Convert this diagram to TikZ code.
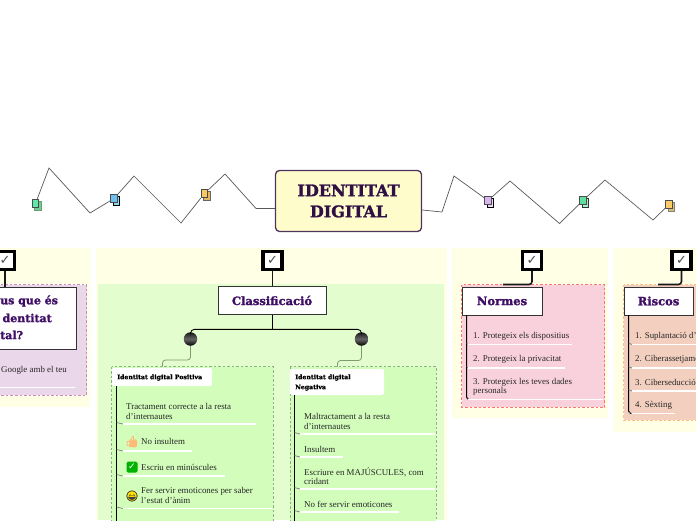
\documentclass[tikz,border=0pt]{standalone}
\usepackage{fontspec}
\setmainfont{Liberation Serif}
\newfontfamily\headf{DejaVu Serif}[FakeBold=1.6]
\newfontfamily\labelf{DejaVu Serif}[FakeBold=0.8]
\newfontfamily\symf{DejaVu Sans}
\newfontfamily\emojif{Noto Emoji}[FakeBold=1.5]
\definecolor{ink}{HTML}{2F0F45}
\definecolor{hd}{HTML}{3F0F66}
\definecolor{pyellow}{HTML}{FFFFE6}
\definecolor{pgreen}{HTML}{E4FDCF}
\definecolor{sgreen}{HTML}{D2FDBB}
\definecolor{ppurple}{HTML}{EAD7EA}
\definecolor{ppink}{HTML}{F9D1DD}
\definecolor{ppeach}{HTML}{F2CFBF}
\definecolor{gdash}{HTML}{8FB080}
\definecolor{glink}{HTML}{7E9A6E}
\tikzset{
  zig/.style={draw=black!65,line width=.7pt},
  backpanel/.style={fill=pyellow,draw=none},
  subpanel/.style={line width=.7pt,dash pattern=on 2.5pt off 2pt},
  checkbox/.style={draw=black,line width=3.2pt,fill=white,minimum width=19pt,minimum height=18pt,inner sep=0pt,font=\symf\fontsize{13}{13}\selectfont,text=black!70},
  headbox/.style={draw=black!80,line width=1pt,fill=white,inner sep=0pt,font=\headf\bfseries\fontsize{11.5}{18}\selectfont,text=hd,align=center},
  thick link/.style={draw=black!90,line width=1.6pt,rounded corners=3pt},
  spine/.style={draw=black,line width=1pt,rounded corners=2pt},
  itemtext/.style={anchor=west,inner sep=0pt,align=left,font=\fontsize{8.9}{9.2}\selectfont,text=black!85},
  labeltext/.style={anchor=west,inner sep=0pt,align=left,font=\labelf\bfseries\fontsize{6.2}{10}\selectfont,text=black},
  labelbox/.style={fill=white,rounded corners=2pt,draw=none},
  ball/.style={circle,top color=black!90,bottom color=black,middle color=black!60,minimum size=13.5pt,inner sep=0pt},
  greenlink/.style={draw=glink,line width=.8pt,rounded corners=3pt},
  tick/.style={draw=black!55,line width=.6pt},
  uline/.style={draw=white,line width=1.2pt},
}
% #1 spine x, #2 line start, #3 line end, #4 y
\newcommand{\itemrule}[4]{%
  \coordinate (ta) at (#1,#4-1.5); \coordinate (tb) at (#2,#4);
  \draw[tick] (ta) -- (tb);
  \coordinate (ua) at (#2,#4); \coordinate (ub) at (#3,#4);
  \draw[uline] (ua) -- (ub);}
% #1 name, #2 x, #3 y, #4 front, #5 back, #6 back border
\newcommand{\docicon}[6]{%
  \node[draw=#6,fill=#5,line width=.9pt,minimum width=6.5pt,minimum height=8.5pt,inner sep=0pt] (#1b) at (#2+2.5,#3+2.3) {};
  \node[draw=black!70,fill=#4,line width=.9pt,minimum width=6.5pt,minimum height=8.5pt,inner sep=0pt] (#1) at (#2,#3) {};}
\definecolor{ica}{HTML}{5FE8A8}\definecolor{icab}{HTML}{6FCB9A}
\definecolor{icb}{HTML}{6EC1EE}\definecolor{icbb}{HTML}{8FD8F5}
\definecolor{icc}{HTML}{F9C862}\definecolor{iccb}{HTML}{E0B860}
\definecolor{icd}{HTML}{D9B5F0}\definecolor{icdb}{HTML}{EBD7F8}
\definecolor{ice}{HTML}{5FE0A0}\definecolor{iceb}{HTML}{A8F0D0}
\definecolor{icf}{HTML}{F9CB6A}\definecolor{icfb}{HTML}{E0BC70}
\begin{document}
\begin{tikzpicture}[x=1pt,y=-1pt]
\useasboundingbox (0,0) rectangle (696,520);
\clip (0,0) rectangle (696,520);
\fill[white] (0,0) rectangle (696,520);

% background panels
\fill[backpanel] (0,248) rectangle (90,407);
\fill[backpanel] (96,248) rectangle (447,520);
\fill[backpanel] (452,248) rectangle (608,418);
\fill[backpanel] (614,248) rectangle (696,432);
\fill[pgreen] (98,284) rectangle (444,520);
\draw[subpanel,fill=ppurple,draw=violet!45] (-5,284.5) rectangle (86.5,395);
\draw[subpanel,fill=ppink,draw=red!40!pink] (461.5,284.5) rectangle (604.5,407);
\draw[subpanel,fill=ppeach,draw=orange!50] (623.5,284.5) rectangle (700,420);
\draw[subpanel,fill=sgreen,draw=gdash] (111.5,366.5) rectangle (273,525);
\draw[subpanel,fill=sgreen,draw=gdash] (290,366.5) rectangle (436,525);

% central node
\node[draw=ink!85,line width=1.3pt,fill=yellow!20,rounded corners=4pt,minimum width=146pt,minimum height=61pt,inner sep=0pt,
  font=\headf\bfseries\fontsize{16}{21}\selectfont,text=ink,align=center] (center) at (348.5,201) {IDENTITAT\\DIGITAL};

% zigzags
\docicon{ia}{35.5}{203.5}{ica}{icab}{green!40!black!60}
\docicon{ib}{114}{198.5}{icb}{icbb}{black}
\docicon{ic}{204.5}{193.5}{icc}{iccb}{black!60}
\docicon{id}{488}{200.5}{icd}{icdb}{black}
\docicon{ie}{583}{200.5}{ice}{iceb}{black!80}
\docicon{if}{669}{204.5}{icf}{icfb}{black!50}
\coordinate (a1) at (49,168); \coordinate (a2) at (90,213);
\coordinate (b1) at (134,176); \coordinate (b2) at (181,223);
\coordinate (c1) at (225,174); \coordinate (c2) at (256,208.5);
\coordinate (d1) at (442,212); \coordinate (d2) at (454,176);
\coordinate (e1) at (510,181); \coordinate (e2) at (559.5,223.5);
\coordinate (f1) at (605,180); \coordinate (f2) at (653,220);
\draw[zig] (ia) -- (a1) -- (a2) -- (ib);
\draw[zig] (ib) -- (b1) -- (b2) -- (ic);
\draw[zig] (ic) -- (c1) -- (c2) -- (center.west |- c2);
\draw[zig] (center.east |- 0,210) -- (d1) -- (d2) -- (id);
\draw[zig] (id) -- (e1) -- (e2) -- (ie);
\draw[zig] (ie) -- (f1) -- (f2) -- (if);

% checkboxes
\node[checkbox] (ck1) at (5,260.5) {✓};
\node[checkbox] (ck2) at (272.5,260.5) {✓};
\node[checkbox] (ck3) at (532,260.5) {✓};
\node[checkbox] (ck4) at (681.5,260.5) {✓};

% head boxes
\node[headbox,minimum width=108pt,minimum height=28pt] (classif) at (272,300.5) {Classificació};
\node[headbox,minimum width=80pt,minimum height=28pt] (normes) at (502,301) {Normes};
\node[headbox,minimum width=69pt,minimum height=28pt] (riscos) at (658.5,301) {Riscos};
\node[draw=black!80,line width=1pt,fill=white,minimum width=100pt,minimum height=62pt,inner sep=0pt] (question) at (26,318) {};
\node[anchor=west,inner sep=0pt,align=left,font=\headf\bfseries\fontsize{11}{17}\selectfont,text=hd] (qt1) at (0,301) {us que és};
\node[anchor=east,inner sep=0pt,align=right,font=\headf\bfseries\fontsize{11}{17}\selectfont,text=hd] (qt2) at (52,318) {dentitat};
\node[anchor=west,inner sep=0pt,align=left,font=\headf\bfseries\fontsize{11}{17}\selectfont,text=hd] (qt3) at (0,335) {tal?};

% head links
\draw[thick link] (ck1.south) -- (ck1 |- question.north);
\draw[thick link] (ck2.south) -- (ck2 |- classif.north);
\coordinate (nj) at (503,284.5); \coordinate (rj) at (658,284.5);
\draw[thick link] (ck3.south) -- (ck3 |- nj) -- (nj);
\draw[thick link] (ck4.south) -- (ck4 |- rj) -- (rj);

% classification tree
\node[ball] (b-l) at (190.5,339) {};
\node[ball] (b-r) at (361.5,339) {};
\coordinate (bus) at (272,329.3);
\draw[draw=black,line width=.9pt] (classif.south) -- (bus);
\draw[draw=black,line width=.9pt,rounded corners=4pt] (b-l.north) -- (b-l |- bus) -- (b-r |- bus) -- (b-r.north);
\coordinate (gl) at (162.5,366.5); \coordinate (gr) at (337.5,366.5);
\draw[greenlink] (b-l.south) -- (190.5,360) -- (162.5,360) -- (gl);
\draw[greenlink] (b-r.south) -- (361.5,360.5) -- (337.5,360.5) -- (gr);

% label boxes
\node[labelbox,minimum width=100pt,minimum height=18pt,inner sep=0pt] (lab1) at (162,377) {};
\node[labeltext] (lab1t) at (117,377.5) {Identitat digital Positiva};
\node[labelbox,minimum width=94pt,minimum height=26pt,inner sep=0pt] (lab2) at (337,382) {};
\node[labeltext] (lab2t) at (295,382.5) {Identitat digital\\Negativa};

% spines
\coordinate (s1) at (116.5,525); \coordinate (s2) at (294.5,525);
\draw[spine] (116.5,386) -- (s1);
\draw[spine] (294.5,395) -- (s2);
\coordinate (s3) at (466.5,399); \coordinate (s4) at (628.5,413);
\draw[spine] (466.5,315) -- (s3) -- (468.5,399.5);
\draw[spine] (628.5,315) -- (s4) -- (631,413.5);

% items: positive
\node[itemtext] (p1) at (126,411.5) {Tractament correcte a la resta\\d'internautes};
\itemrule{116.5}{123}{256}{424}
\fill[orange!50,rounded corners=1pt] (129,440) rectangle (137,447);
\node[inner sep=0pt,font=\emojif\fontsize{11}{11}\selectfont,text=orange!55] (p2i) at (132,441.5) {👍};
\node[itemtext] (p2) at (141,441) {No insultem};
\itemrule{116.5}{123}{192}{451}
\node[fill=green!70!black,rounded corners=1.5pt,minimum size=11pt,inner sep=0pt,font=\symf\bfseries\fontsize{9}{9}\selectfont,text=white] (p3i) at (132,467) {✓};
\node[itemtext] (p3) at (141,467) {Escriu en minúscules};
\itemrule{116.5}{123}{225}{476}
\node[circle,fill=yellow!85!orange,minimum size=11pt,inner sep=0pt] (p4c) at (132,496) {};
\node[inner sep=0pt,font=\emojif\fontsize{10.5}{10.5}\selectfont,text=black!75] (p4i) at (p4c) {😄};
\node[itemtext] (p4) at (141,495.5) {Fer servir emoticones per saber\\l'estat d'ànim};
\itemrule{116.5}{123}{272}{508.5}

% items: negative
\node[itemtext] (n1) at (304,421.5) {Maltractament a la resta\\d'internautes};
\itemrule{294.5}{300}{435}{434}
\node[itemtext] (n2) at (304,449) {Insultem};
\itemrule{294.5}{300}{343}{457}
\node[itemtext] (n3) at (304,476.5) {Escriure en MAJÚSCULES, com\\cridant};
\itemrule{294.5}{300}{435}{489}
\node[itemtext] (n4) at (304,504) {No fer servir emoticones};
\itemrule{294.5}{300}{399}{512}

% items: normes
\node[itemtext] (m1) at (473,336) {1. Protegeix els dispositius};
\itemrule{466.5}{468}{572}{344.5}
\node[itemtext] (m2) at (473,359) {2. Protegeix la privacitat};
\itemrule{466.5}{468}{565}{368}
\node[itemtext] (m3) at (473,386.5) {3. Protegeix les teves dades\\personals};
\itemrule{466.5}{468}{603}{399.5}

% items: riscos
\node[itemtext] (r1) at (635,336) {1. Suplantació d'identitat};
\itemrule{628.5}{632}{700}{344.5}
\node[itemtext] (r2) at (635,359) {2. Ciberassetjament};
\itemrule{628.5}{632}{700}{368}
\node[itemtext] (r3) at (635,382) {3. Ciberseducció};
\itemrule{628.5}{632}{700}{391}
\node[itemtext] (r4) at (635,405) {4. Sèxting};
\itemrule{628.5}{632}{675}{413.5}

% left panel
\node[itemtext] (g1) at (1,370) {Google amb el teu};
\coordinate (ga) at (-5,387.5); \coordinate (gb) at (75,387.5);
\draw[uline] (ga) -- (gb);
\end{tikzpicture}
\end{document}
